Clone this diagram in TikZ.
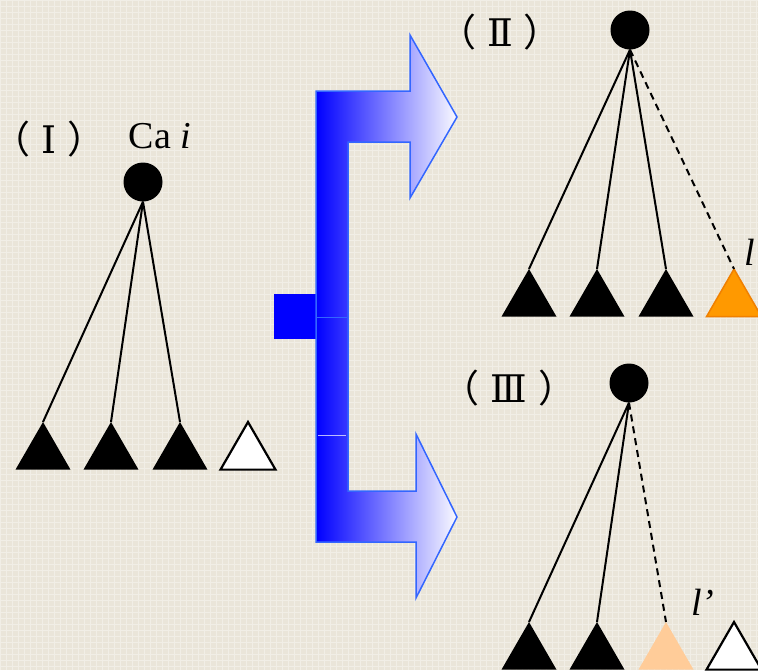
\documentclass[tikz,border=0pt]{standalone}
\usepackage{fontspec}
\setmainfont{Liberation Serif}
\newfontfamily\cjkfont[RawFeature=+halt]{Noto Sans CJK SC}
\newfontfamily\romfont{DejaVu Serif}
\usetikzlibrary{shapes.geometric}
\definecolor{bg}{RGB}{234,229,217}
\definecolor{arrowedge}{RGB}{51,102,255}
\definecolor{orangefill}{RGB}{255,153,0}
\definecolor{orangeedge}{RGB}{240,128,0}
\definecolor{peach}{RGB}{255,204,153}
\definecolor{pale}{RGB}{250,250,255}
\newcommand{\romlabel}[1]{{\cjkfont （}\hspace{11pt}{\romfont #1}\hspace{11pt}{\cjkfont ）}}
\begin{document}
\begin{tikzpicture}[x=1pt,y=-1pt,
  dot/.style={circle,fill=black,inner sep=0pt,minimum size=39pt},
  tri/.style={regular polygon,regular polygon sides=3,minimum size=63.5pt,inner sep=0pt,outer sep=0pt,anchor=corner 1},
  blacktri/.style={tri,fill=black},
  whitetri/.style={tri,fill=white,draw=black,line width=2.2pt},
  orangetri/.style={tri,fill=orangefill,draw=orangeedge,line width=1.5pt},
  peachtri/.style={tri,fill=peach},
  edge/.style={line width=2pt},
  dashededge/.style={line width=2pt,dash pattern=on 7pt off 5pt},
  lbl/.style={inner sep=0pt,font=\fontsize{38}{38}\selectfont},
  txt/.style={inner sep=0pt,anchor=base,font=\fontsize{38}{38}\selectfont},
]
\useasboundingbox (0,0) rectangle (758,670);
\fill[bg] (0,0) rectangle (758,670);
\draw[white,opacity=0.35,line width=0.5pt,step=6pt] (0,0) grid (758,670);

% blue splitting arrow
\fill[blue] (274,294) rectangle (316,339);
\path[draw=arrowedge,line width=1.5pt,left color=blue,right color=pale,line join=miter]
  (316,91) -- (410,91) -- (410,35) -- (457,117) -- (410,198) -- (410,142)
  -- (348,142) -- (348,491) -- (416,491) -- (416,434) -- (457,517)
  -- (416,598) -- (416,542) -- (316,542) -- cycle;
\draw[arrowedge,line width=1pt] (317,317) -- (347,317);
\draw[white,opacity=0.7,line width=0.8pt] (318,435) -- (346,435);

% tree I
\node[lbl] (n1) at (49,139) {\romlabel{Ⅰ}};
\node[txt] (ca) at (160,148) {Ca \textit{i}};
\node[dot] (c1) at (143,182) {};
\node[blacktri] (t11) at (43,422) {};
\node[blacktri] (t12) at (111,422) {};
\node[blacktri] (t13) at (180,422) {};
\node[whitetri] (t14) at (248,422) {};
\draw[edge] (c1.south) -- (t11.corner 1);
\draw[edge] (c1.south) -- (t12.corner 1);
\draw[edge] (c1.south) -- (t13.corner 1);

% tree II
\node[lbl] (n2) at (500,32) {\romlabel{Ⅱ}};
\node[dot] (c2) at (630,30) {};
\node[blacktri] (t21) at (529,269) {};
\node[blacktri] (t22) at (597,269) {};
\node[blacktri] (t23) at (666,269) {};
\node[orangetri] (t24) at (734,269) {};
\draw[edge] (c2.south) -- (t21.corner 1);
\draw[edge] (c2.south) -- (t22.corner 1);
\draw[edge] (c2.south) -- (t23.corner 1);
\draw[dashededge] (c2.south) -- (t24.corner 1);
\node[txt] (l1) at (750,265) {\textit{l}};

% tree III
\node[lbl] (n3) at (509,388) {\romlabel{Ⅲ}};
\node[dot] (c3) at (629,383) {};
\node[blacktri] (t31) at (529,622) {};
\node[blacktri] (t32) at (597,622) {};
\node[peachtri] (t33) at (666,622) {};
\node[whitetri] (t34) at (734,622) {};
\draw[edge] (c3.south) -- (t31.corner 1);
\draw[edge] (c3.south) -- (t32.corner 1);
\draw[dashededge] (c3.south) -- (t33.corner 1);
\node[txt] (l2) at (703,615) {\textit{l’}};
\end{tikzpicture}
\end{document}
